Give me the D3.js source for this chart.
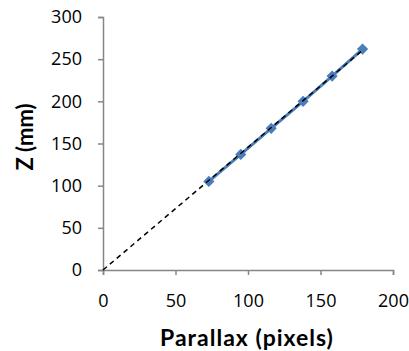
<!DOCTYPE html>
<html>
<head>
<meta charset="utf-8">
<script src="https://d3js.org/d3.v7.min.js"></script>
<style>
body { margin: 0; background: #fff; }
text { fill: #000; }
</style>
</head>
<body>
<script>
var parallax = [73, 95, 116, 138, 158, 179],
    zmm = [105, 137, 168, 200, 230, 262],
    trendX = [0, 180],
    trendY = [0, 262],
    xTicks = [0, 50, 100, 150, 200],
    yTicks = [0, 50, 100, 150, 200, 250, 300];

var width = 409, height = 351;

var xScale = d3.scaleLinear().domain([0, 200]).range([103, 393]);
var yScale = d3.scaleLinear().domain([0, 300]).range([270, 17]);

var svg = d3.select('body').append('svg')
    .attr('width', width)
    .attr('height', height);

// axes
var xAxis = svg.append('g')
    .attr('transform', 'translate(0,270)')
    .call(d3.axisBottom(xScale).tickValues(xTicks).tickSize(5).tickPadding(19));
var yAxis = svg.append('g')
    .attr('transform', 'translate(103,0)')
    .call(d3.axisLeft(yScale).tickValues(yTicks).tickSize(5).tickPadding(16));

[xAxis, yAxis].forEach(function (a) {
    a.select('.domain').attr('stroke', '#868686').attr('stroke-width', 1.5);
    a.selectAll('.tick line').attr('stroke', '#868686').attr('stroke-width', 1.5);
    a.selectAll('.tick text')
        .style('font-family', '"Open Sans", sans-serif')
        .style('font-size', '18px')
        .attr('fill', '#000');
});

var pts = parallax.map(function (d, i) { return { x: d, y: zmm[i] }; });

// data line
var line = d3.line()
    .x(function (d) { return xScale(d.x); })
    .y(function (d) { return yScale(d.y); });

svg.append('path')
    .datum(pts)
    .attr('d', line)
    .attr('fill', 'none')
    .attr('stroke', '#4a7ebb')
    .attr('stroke-width', 3);

// markers
svg.selectAll('.marker')
    .data(pts)
    .enter().append('path')
    .attr('class', 'marker')
    .attr('d', d3.symbol().type(d3.symbolDiamond2).size(80))
    .attr('transform', function (d) {
        return 'translate(' + xScale(d.x) + ',' + yScale(d.y) + ')';
    })
    .attr('fill', '#4a7ebb');

// trend line
var trend = trendX.map(function (d, i) { return { x: d, y: trendY[i] }; });
svg.append('path')
    .datum(trend)
    .attr('d', line)
    .attr('fill', 'none')
    .attr('stroke', '#000')
    .attr('stroke-width', 1.5)
    .attr('stroke-dasharray', '5,4');

// axis titles
svg.append('text')
    .attr('x', 247)
    .attr('y', 346)
    .attr('text-anchor', 'middle')
    .style('font-family', 'Lato, sans-serif')
    .style('font-size', '23px')
    .style('font-weight', 'bold')
    .style('letter-spacing', '1px')
    .text('Parallax (pixels)');

svg.append('text')
    .attr('transform', 'translate(33,137) rotate(-90)')
    .attr('text-anchor', 'middle')
    .style('font-family', 'Lato, sans-serif')
    .style('font-size', '22px')
    .style('font-weight', 'bold')
    .text('Z (mm)');
</script>
</body>
</html>
